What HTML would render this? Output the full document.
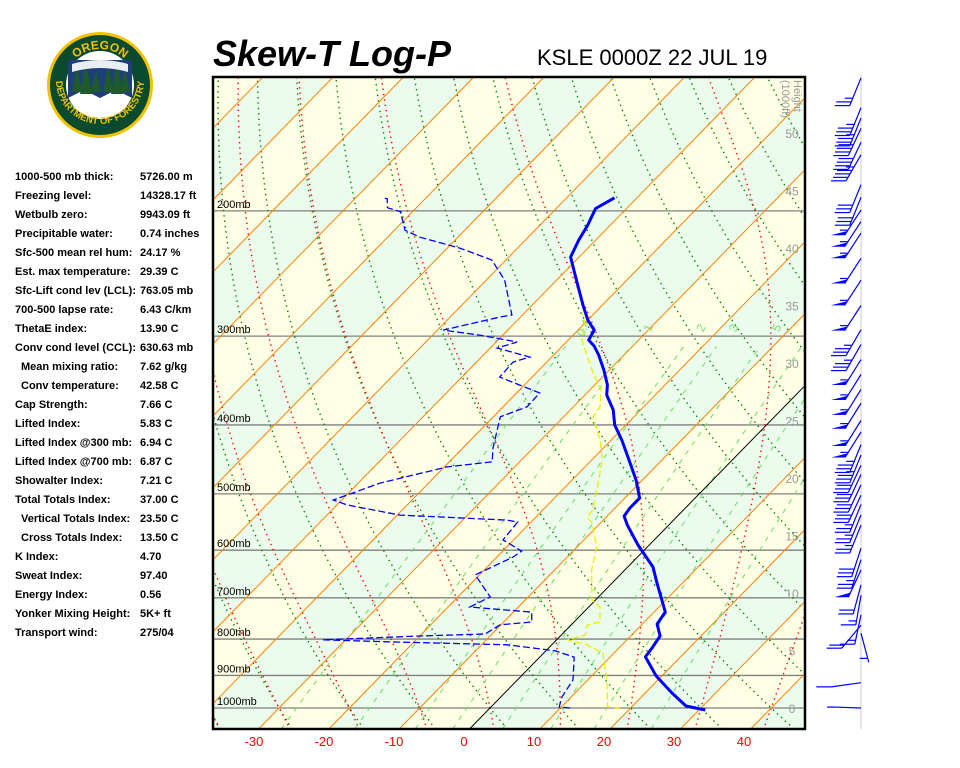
<!DOCTYPE html>
<html><head><meta charset="utf-8"><title>Skew-T Log-P KSLE</title>
<style>
html,body{margin:0;padding:0;background:#fff;width:960px;height:768px;overflow:hidden}
svg{display:block}
.st{font:bold 11px "Liberation Sans",sans-serif;fill:#000}
</style></head>
<body>
<svg id="root" width="960" height="768" viewBox="0 0 960 768" xmlns="http://www.w3.org/2000/svg">
  <defs>
    <clipPath id="plotclip"><rect x="213" y="77" width="592" height="652"/></clipPath>
    <path id="arcTop" d="M 64 85 A 36 36 0 0 1 136 85"/>
    <path id="arcBot" d="M 56 80 A 44 44 0 0 0 144 80"/>
  </defs>
  <g>
    <circle cx="100" cy="85" r="53" fill="#f2c200"/>
    <circle cx="100" cy="85" r="50" fill="#0b4a2c"/>
    <circle cx="100" cy="85" r="34" fill="#ffffff"/>
    <path d="M68 60 L132 60 L132 98 L116 90 L100 98 L84 90 L68 98 Z" fill="#1f3f7a"/>
    <path d="M72 92 L77 66 L82 92 Z M80 94 L86 62 L92 94 Z M91 92 L96 70 L101 92 Z M103 92 L108 64 L113 92 Z M111 94 L117 60 L123 94 Z M120 92 L125 70 L130 92 Z" fill="#1e5a2a"/>
    <path d="M72 64 Q100 56 128 64 L128 72 Q100 64 72 72 Z" fill="#e8eef4"/>
    <text font-family="Liberation Sans, sans-serif" font-weight="bold" font-size="12" fill="#f2c200"><textPath href="#arcTop" startOffset="50%" text-anchor="middle">OREGON</textPath></text>
    <text font-family="Liberation Sans, sans-serif" font-weight="bold" font-size="9.5" fill="#f2c200"><textPath href="#arcBot" startOffset="50%" text-anchor="middle">DEPARTMENT OF FORESTRY</textPath></text>
  </g>
  <text x="213" y="66" font-family="Liberation Sans, sans-serif" font-weight="bold" font-style="italic" font-size="36" fill="#000">Skew-T Log-P</text>
  <text x="537" y="65" font-family="Liberation Sans, sans-serif" font-size="22" fill="#000">KSLE 0000Z 22 JUL 19</text>
  <g id="stats"></g>
  <g id="plot" clip-path="url(#plotclip)"></g>
  <g id="overlay"></g>
  <g id="wind"></g>
</svg>
<script>
// ---------- data ----------
const tempPres = [1006.5,993.5,952.6,901.6,847.6,823.4,792.2,762.0,732.9,698.1,665.0,633.6,590.0,553.0,537.2,523.3,506.8,478.1,448.0,420.0,400.0,381.0,363.0,351.4,334.7,318.9,309.8,303.8,294.2,284.8,271.2,254.3,232.3,219.9,209.5,198.5,191.7];
const tempVals = [30.9,27.6,23.8,19.2,15.0,14.7,14.2,12.1,11.6,8.9,6.2,3.6,-1.6,-5.9,-7.6,-7.9,-7.9,-10.9,-14.7,-18.5,-21.6,-23.9,-26.9,-28.2,-30.8,-33.6,-35.5,-37.1,-37.7,-40.0,-42.8,-46.3,-51.2,-52.4,-53.2,-54.4,-53.2];
const dewPres = [1000,996.8,965,913,848,831,815,807,802,792,787,764,757,733,721,698,650,613.5,601.7,580.4,547.7,544.2,535.5,518.3,510.0,482.8,458.1,450.7,431.0,389.6,377.3,360.7,342.6,326.4,321.1,311.8,305.8,299.0,294.2,282.0,280.2,250.2,234.5,225.6,217.8,212.9,200.6,198.0,192.3,191.7];
const dewVals = [11.4,9.7,8.7,7.9,4.9,1.3,-6.3,-23.8,-33.2,-20.0,-11.0,-10.1,-6.0,-7.4,-16.9,-15.4,-20.6,-17.7,-17.3,-21.5,-21.9,-23.7,-39.6,-48.5,-51.2,-46.9,-39.6,-33.9,-35.7,-39.0,-36.6,-36.7,-44.6,-44.8,-43.1,-49.0,-47.0,-53.3,-59.2,-52.9,-51.5,-57.4,-62.0,-68.2,-75.4,-78.5,-81.7,-84.1,-85.4,-86.2];
const wbPres = [1000,996.8,913,837,815,802,790,764,757,721,705,640,594,549.5,539,527,482.8,448,420,389.6,377.3,357.3,338,303.8,287.6,278.4];
const wbVals = [18.5,16.6,12.7,8.4,5.0,1.5,3.4,2.3,3.7,1.6,-0.5,-4.7,-7.2,-11.2,-12.7,-12.9,-15.9,-18.5,-21.6,-25.8,-26.2,-28.4,-31.9,-38.1,-40.0,-41.8];
const pressureLevels = [200,300,400,500,600,700,800,900,1000];
const tempTicks = [-30,-20,-10,0,10,20,30,40];
const heightTicks = [0,5,10,15,20,25,30,35,40,45,50];
const mixRatios = [0.4,1,2,3,5,8,12,20];
const mixLabels = ["0.4","1","2","3","5"];
const windHeights = [54.8,52.2,51.3,50.4,49.2,48.1,45.5,44.4,43.3,42.3,41.3,39.1,37.2,35.0,32.9,31.6,30.3,29.0,27.7,26.5,25.0,24.0,22.9,22.0,21.1,20.3,19.4,18.5,17.7,16.8,15.9,13.9,12.9,12.0,10.7,9.8,8.1,7.2,6.5,2.2,0];
const windDirs = [202,202,202,205,205,210,202,202,213,213,213,213,213,213,210,210,212,212,212,212,212,212,202,202,205,205,205,205,202,202,202,198,198,205,195,190,192,220,165,262,272];
const windSpeeds = [25,35,35,40,40,45,30,30,55,55,55,55,55,55,35,35,55,55,55,55,55,55,35,35,30,30,30,30,25,25,25,30,25,50,20,15,15,20,5,10,5];
const statLabels = ["1000-500 mb thick:","Freezing level:","Wetbulb zero:","Precipitable water:","Sfc-500 mean rel hum:","Est. max temperature:","Sfc-Lift cond lev (LCL):","700-500 lapse rate:","ThetaE index:","Conv cond level (CCL):"," Mean mixing ratio:"," Conv temperature:","Cap Strength:","Lifted Index:","Lifted Index @300 mb:","Lifted Index @700 mb:","Showalter Index:","Total Totals Index:"," Vertical Totals Index:"," Cross Totals Index:","K Index:","Sweat Index:","Energy Index:","Yonker Mixing Height:","Transport wind:"];
const statValues = ["5726.00 m","14328.17 ft","9943.09 ft","0.74 inches","24.17 %","29.39 C","763.05 mb","6.43 C/km","13.90 C","630.63 mb","7.62 g/kg","42.58 C","7.66 C","5.83 C","6.94 C","6.87 C","7.21 C","37.00 C","23.50 C","13.50 C","4.70","97.40","0.56","5K+ ft","275/04"];

// ---------- axes ----------
const PX0=213, PX1=805, PY0=77, PY1=729;
const PTOP=1000*Math.exp(-(708-PY0)/308.9), PBOT=1000*Math.exp(-(708-PY1)/308.9);
function yP(p){return 708-308.9*Math.log(1000/p);}
function xT(T,p){return 490+7.03*T+0.977*(708-yP(p));}
function yH(h){return 708-11.5*h;}
const NS="http://www.w3.org/2000/svg";
function mk(tag,attrs,parent){const e=document.createElementNS(NS,tag);for(const k in attrs)e.setAttribute(k,attrs[k]);parent.appendChild(e);return e;}
function ptsStr(arr){return arr.map(a=>a[0].toFixed(1)+","+a[1].toFixed(1)).join(" ");}
const plot=document.getElementById('plot'), ov=document.getElementById('overlay'), wind=document.getElementById('wind'), stats=document.getElementById('stats');

// background bands between isotherms
for(let k=-15;k<=6;k++){
  const t0=k*10,t1=(k+1)*10;
  const poly=[[xT(t0,PBOT),PY1],[xT(t1,PBOT),PY1],[xT(t1,PTOP),PY0],[xT(t0,PTOP),PY0]];
  const odd=((k%2)+2)%2===1;
  const b=mk('polygon',{points:ptsStr(poly),fill:odd?'#ffffe6':'#ecfcec'},plot);
  
  
}
// pressure lines
pressureLevels.forEach(p=>{
  const l=mk('line',{x1:PX0,x2:PX1,y1:yP(p),y2:yP(p),stroke:'#808080','stroke-width':1.3},plot);
  
  
});
// dry adiabats
for(let th=-40;th<=200;th+=10){
  const pts=[];
  for(let p=PBOT;p>=PTOP-5;p-=5){const T=(th+273.15)*Math.pow(p/1000,0.2857)-273.15;pts.push([xT(T,p),yP(p)]);}
  const l=mk('polyline',{points:ptsStr(pts),fill:'none',stroke:'#008000','stroke-width':1.4,'stroke-dasharray':'1.4,4'},plot);
  
  
}
// moist adiabats
function dTdp(p,T){const Tc=T-273.15;const es=6.112*Math.exp(17.67*Tc/(Tc+243.5));const rs=0.622*es/(p-es);
  return (287*T+2.5e6*rs)/(p*(1005+2.5e6*2.5e6*rs*0.622/(287*T*T)));}
for(let tw=-40;tw<=50;tw+=10){
  const up=[];let T=tw+273.15;
  for(let p=1000;p>=PTOP-5;p-=2){up.push([xT(T-273.15,p),yP(p)]);T-=dTdp(p,T)*2;}
  const dn=[];T=tw+273.15;
  for(let p=1000;p<=PBOT+5;p+=2){dn.push([xT(T-273.15,p),yP(p)]);T+=dTdp(p,T)*2;}
  const pts=dn.reverse().concat(up);
  const l=mk('polyline',{points:ptsStr(pts),fill:'none',stroke:'#ff0000','stroke-width':1.4,'stroke-dasharray':'1.4,4'},plot);
  
  
}
// mixing ratio lines
mixRatios.forEach(w=>{
  const pts=[];
  for(let p=PBOT;p>=310;p-=5){const e=w*p/(622+w);const a=Math.log(e/6.112);const Td=243.5*a/(17.67-a);pts.push([xT(Td,p),yP(p)]);}
  const l=mk('polyline',{points:ptsStr(pts),fill:'none',stroke:'#66dd66','stroke-width':1,'stroke-dasharray':'5,6'},plot);
  
  
});
mixLabels.forEach(s=>{
  const w=parseFloat(s),p=290;const e=w*p/(622+w);const a=Math.log(e/6.112);const Td=243.5*a/(17.67-a);
  const x=xT(Td,p)+6,y=yP(p)+4;
  const t=mk('text',{x:x,y:y,fill:'#7adf7a','font-size':12,'font-family':'Liberation Sans, sans-serif',transform:`rotate(-65 ${x} ${y})`,'text-anchor':'middle'},plot);
  t.textContent=s;
  
  
});
// isotherms
for(let t=-150;t<=60;t+=10){
  const l=mk('line',{x1:xT(t,PBOT),y1:PY1,x2:xT(t,PTOP),y2:PY0,stroke:t===0?'#000':'#ff8000','stroke-width':1},plot);
  
  
}
// profiles
function profile(P,V){return P.map((p,i)=>[xT(V[i],p),yP(p)]);}
const wb=mk('polyline',{points:ptsStr(profile(wbPres,wbVals)),fill:'none',stroke:'#eeee00','stroke-width':1.3,'stroke-dasharray':'7,3'},plot);


const dp=mk('polyline',{points:ptsStr(profile(dewPres,dewVals)),fill:'none',stroke:'#0000ff','stroke-width':1.3,'stroke-dasharray':'7,3'},plot);


const tp=mk('polyline',{points:ptsStr(profile(tempPres,tempVals)),fill:'none',stroke:'#0000ff','stroke-width':3,'stroke-linejoin':'round'},plot);



// overlay: isobar labels, height labels, border, temperature axis
pressureLevels.forEach(p=>{
  const t=mk('text',{x:217,y:yP(p)-3,'font-size':11,'font-family':'Liberation Sans, sans-serif',fill:'#000'},ov);
  t.textContent=p+'mb';
  
  
});
heightTicks.forEach(h=>{
  const t=mk('text',{x:792,y:yH(h)+5,'font-size':12,'font-family':'Liberation Sans, sans-serif',fill:'#999','text-anchor':'middle'},ov);
  t.textContent=h;
  
  
});
const ht=mk('text',{x:794,y:80,'font-size':11,'font-family':'Liberation Sans, sans-serif',fill:'#999',transform:'rotate(90 794 80)'},ov);
ht.textContent='Height';


const ht2=mk('text',{x:782,y:80,'font-size':11,'font-family':'Liberation Sans, sans-serif',fill:'#999',transform:'rotate(90 782 80)'},ov);
ht2.textContent='(1000ft)';


const bd=mk('rect',{x:PX0,y:PY0,width:PX1-PX0,height:PY1-PY0,fill:'none',stroke:'#000','stroke-width':2.5},ov);


tempTicks.forEach(T=>{
  const t=mk('text',{x:464+7.0*T,y:746,'font-size':13,'font-family':'Liberation Sans, sans-serif',fill:'#ff0000','text-anchor':'middle'},ov);
  t.textContent=T;
  
  
});

// wind barbs
const SX=861;
const staff=mk('line',{x1:SX,y1:75,x2:SX,y2:729,stroke:'#e6e6e6','stroke-width':2},wind);


windHeights.forEach((h,i)=>{
  const y0=yH(h),a=(windDirs[i]-180)*Math.PI/180,L=30;
  const ux=-Math.sin(a),uy=Math.cos(a);
  const ex=SX+L*ux,ey=y0+L*uy;
  const g=mk('g',{},wind);
  
  
  mk('line',{x1:SX,y1:y0,x2:ex,y2:ey,stroke:'#0000ff','stroke-width':1.2},g);
  let s=Math.round(windSpeeds[i]/5)*5,pos=0;
  const pn=Math.floor(s/50);s-=pn*50;const fl=Math.floor(s/10);s-=fl*10;const hf=s>=5;
  for(let k=0;k<pn;k++){
    const px=ex-ux*pos,py=ey-uy*pos,qx=ex-ux*(pos+5),qy=ey-uy*(pos+5);
    mk('polygon',{points:`${px},${py} ${px-14},${py} ${qx},${qy}`,fill:'#0000ff'},g);pos+=6;
  }
  for(let k=0;k<fl;k++){
    const px=ex-ux*pos,py=ey-uy*pos;
    mk('line',{x1:px,y1:py,x2:px-15,y2:py,stroke:'#0000ff','stroke-width':1.2},g);pos+=4;
  }
  if(hf){if(pos===0)pos=4;const px=ex-ux*pos,py=ey-uy*pos;
    mk('line',{x1:px,y1:py,x2:px-8,y2:py,stroke:'#0000ff','stroke-width':1.2},g);}
});

// stats panel
statLabels.forEach((lab,i)=>{
  const y=180+19*i;const ind=lab.startsWith(' ');
  const t=mk('text',{x:ind?21:15,y:y,'class':'st'},stats);
  t.textContent=lab.trim();
  
  
  const v=mk('text',{x:140,y:y,'class':'st'},stats);
  v.textContent=statValues[i];
  
  
});
</script>
</body></html>
